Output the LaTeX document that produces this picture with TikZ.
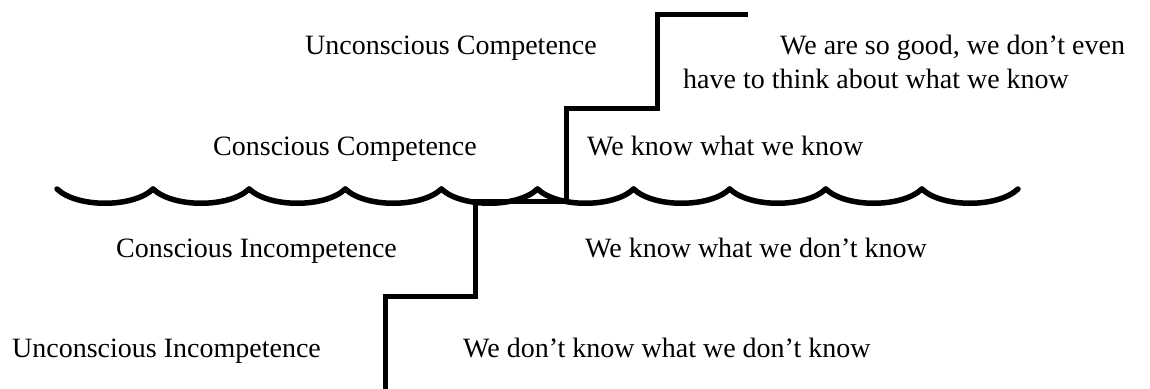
\documentclass[tikz,border=0pt]{standalone}
\usepackage{fontspec}
\setmainfont{Liberation Serif}
\usepackage{tikz}
\usetikzlibrary{positioning}

\begin{document}
\begin{tikzpicture}[x=1pt,y=-1pt,
    lbl/.style={anchor=base west, inner sep=0pt, font=\fontsize{28}{34}\selectfont},
    stairline/.style={line width=5pt, line join=miter},
    waveline/.style={line width=5.5pt, line cap=round}]
    \useasboundingbox (0,0) rectangle (1150,388);

    % Draw the waterline as a row of scallops
    \foreach \i in {0,...,9} {
        \pgfmathsetmacro{\x}{57+\i*96.1}
        \draw[waveline] (\x,189) .. controls (\x+20,208) and (\x+76,208) .. (\x+96.1,189);
    }

    % Draw the staircase
    \draw[stairline] (385,390) -- (385,296) -- (475,296) -- (475,201)
        -- (566,201) -- (566,108) -- (657,108) -- (657,14) -- (748,14);

    % Stage names on the left
    \node[lbl] (uc) at (305,54) {Unconscious Competence};
    \node[lbl] (cc) at (213,155) {Conscious Competence};
    \node[lbl] (ci) at (116,257) {Conscious Incompetence};
    \node[lbl] (ui) at (12,357) {Unconscious Incompetence};

    % What each stage means
    \node[lbl, align=left] (ucText) at (683,88)
        {\hspace*{97pt}We are so good, we don't even\\have to think about what we know};
    \node[lbl] (ccText) at (587,155) {We know what we know};
    \node[lbl] (ciText) at (585,257) {We know what we don't know};
    \node[lbl] (uiText) at (463,357) {We don't know what we don't know};
\end{tikzpicture}
\end{document}
